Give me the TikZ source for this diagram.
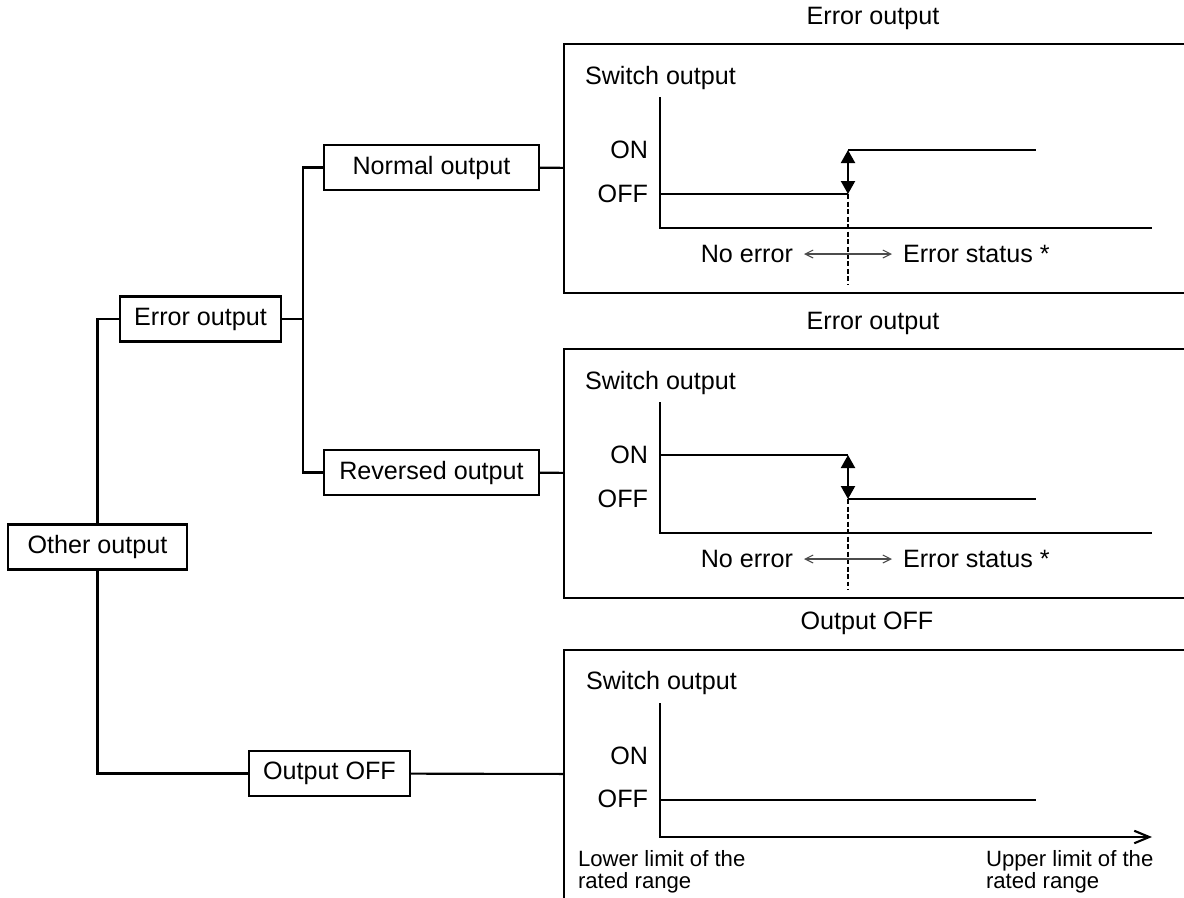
\documentclass[tikz,border=0pt]{standalone}
\usepackage{fontspec}
\setmainfont{Liberation Sans}
\usetikzlibrary{arrows.meta}

\begin{document}
\begin{tikzpicture}[x=0.02cm, y=-0.02cm, line width=1.2pt,
  every node/.style={font=\fontsize{14.3}{17}\selectfont},
  treebox/.style={draw, minimum height=0.9cm, inner sep=0pt},
  panel/.style={draw, anchor=north west, minimum width=12.74cm, minimum height=4.98cm, inner sep=0pt},
  lbl/.style={inner sep=0pt},
  limit/.style={inner sep=0pt, align=left, anchor=north west, font=\fontsize{12.6}{12.5}\selectfont},
  levelarrow/.style={{Triangle[length=0.26cm,width=0.28cm]}-{Triangle[length=0.26cm,width=0.28cm]}},
  rangearrow/.style={{Straight Barb[length=0.16cm,width=0.16cm]}-{Straight Barb[length=0.16cm,width=0.16cm]}, line width=0.6pt, black!70},
  border/.style={dash pattern=on 0.1cm off 0.05cm}]
\useasboundingbox (0,0) rectangle (1184,897);
\clip (0,0) rectangle (1184,897);
 % tree of outputs
 \node[treebox, minimum width=3.58cm] (other) at (97.5,547) {Other output};
 \node[treebox, minimum width=3.22cm] (err) at (200.5,319) {Error output};
 \node[treebox, minimum width=4.3cm] (normal) at (431.5,167.5) {Normal output};
 \node[treebox, minimum width=4.3cm] (reversed) at (431.5,472.5) {Reversed output};
 \node[treebox, minimum width=3.22cm] (off) at (329.5,773.5) {Output OFF};
 \coordinate (bus) at (303,319);
 % panels
 \node[panel] (panelA) at (563,43) {};
 \node[panel] (panelB) at (563,348) {};
 \node[panel] (panelC) at (563,649) {};
 \node (titleA) at (873,18) {Error output};
 \node (titleB) at (873,323) {Error output};
 \node (titleC) at (867,623) {Output OFF};
 \draw (other.north) |- (err.west);
 \draw (other.south) |- (off.west);
 \draw (err.east) -- (bus);
 \draw (normal.west) -| (bus) |- (reversed.west);
 \path [-] (normal) edge (panelA);
 \path [-] (reversed) edge (panelB);
 \path [-] (off) edge (panelC);
 % normal output
 \node[lbl, anchor=west] (swA) at (584,78) {Switch output};
 \node[lbl, anchor=east] (onA) at (649,150) {ON};
 \node[lbl, anchor=east] (offA) at (649,194) {OFF};
 \draw (660,97) -- (660,228) -- (1152,228);
 \draw (660,194) -- (848,194);
 \draw (848,150) -- (1036,150);
 \draw[levelarrow] (848,194) -- (848,150);
 \draw[border] (848,194) -- (848,285);
 \node[lbl, anchor=east] (noerrA) at (794,254) {No error};
 \node[lbl, anchor=west] (errstA) at (902,254) {Error status *};
 \draw[rangearrow, shorten <=0.2cm, shorten >=0.2cm] (noerrA.east) -- (errstA.west);
 % reversed output
 \node[lbl, anchor=west] (swB) at (584,383) {Switch output};
 \node[lbl, anchor=east] (onB) at (649,455) {ON};
 \node[lbl, anchor=east] (offB) at (649,499) {OFF};
 \draw (660,402) -- (660,533) -- (1152,533);
 \draw (660,455) -- (848,455);
 \draw (848,499) -- (1036,499);
 \draw[levelarrow] (848,499) -- (848,455);
 \draw[border] (848,499) -- (848,590);
 \node[lbl, anchor=east] (noerrB) at (794,559) {No error};
 \node[lbl, anchor=west] (errstB) at (902,559) {Error status *};
 \draw[rangearrow, shorten <=0.2cm, shorten >=0.2cm] (noerrB.east) -- (errstB.west);
 % output off
 \node[lbl, anchor=west] (swC) at (585,683) {Switch output};
 \node[lbl, anchor=east] (onC) at (649,756) {ON};
 \node[lbl, anchor=east] (offC) at (649,799) {OFF};
 \draw[-{Straight Barb[length=0.3cm,width=0.25cm]}] (660,703) -- (660,837) -- (1152,837);
 \draw (660,800) -- (1036,800);
 \node[limit] (lower) at (577,849) {Lower limit of the\\rated range};
 \node[limit] (upper) at (985,849) {Upper limit of the\\rated range};
\end{tikzpicture}
\end{document}
